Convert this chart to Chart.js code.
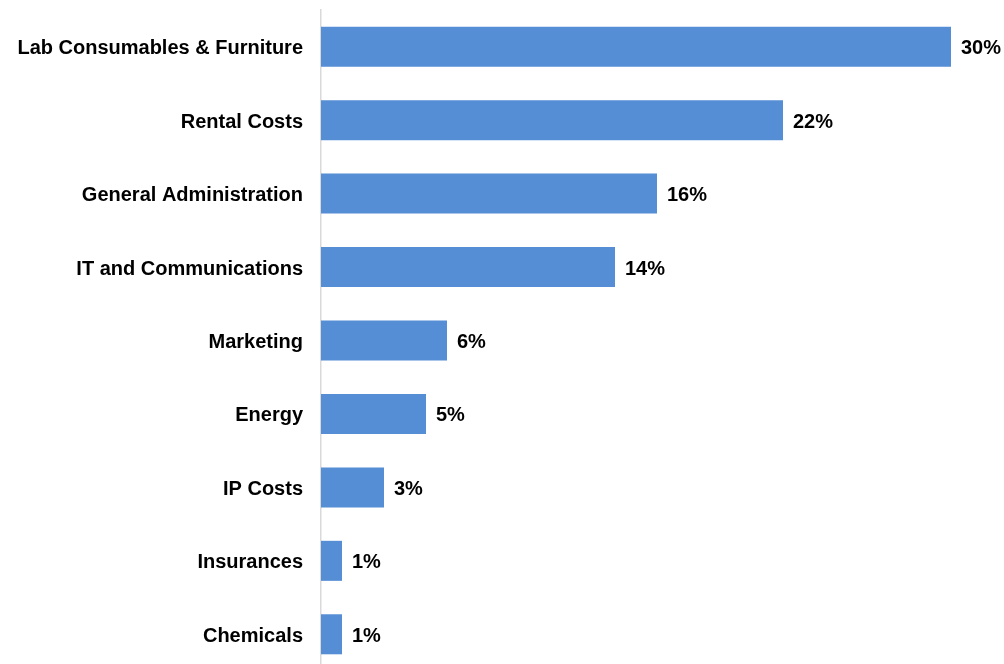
<!DOCTYPE html>
<html>
<head>
<meta charset="utf-8">
<script src="https://cdn.jsdelivr.net/npm/chart.js@4.4.1/dist/chart.umd.min.js"></script>
<style>
  html, body { margin: 0; padding: 0; background: #ffffff; overflow: hidden; }
  #wrap { position: relative; width: 1004px; height: 681px; }
</style>
</head>
<body>
<div id="wrap"><canvas id="chart" width="1004" height="681"></canvas></div>
<script>
// Cost categories and their share of total spend (%)
const categories = [
  "Lab Consumables & Furniture",
  "Rental Costs",
  "General Administration",
  "IT and Communications",
  "Marketing",
  "Energy",
  "IP Costs",
  "Insurances",
  "Chemicals"
];
const shares = [30, 22, 16, 14, 6, 5, 3, 1, 1];

const FONT = "'Liberation Sans', Arial, Helvetica, sans-serif";

// Writes the percentage just past the end of each bar
const valueLabels = {
  id: "valueLabels",
  afterDatasetsDraw(chart) {
    const ctx = chart.ctx;
    const meta = chart.getDatasetMeta(0);
    ctx.save();
    ctx.font = "bold 20px " + FONT;
    ctx.fillStyle = "#000000";
    ctx.textAlign = "left";
    ctx.textBaseline = "middle";
    meta.data.forEach((bar, i) => {
      ctx.fillText(shares[i] + "%", bar.x + 10, bar.y + 2);
    });
    ctx.restore();
  }
};

new Chart(document.getElementById("chart"), {
  type: "bar",
  data: {
    labels: categories,
    datasets: [{
      data: shares,
      backgroundColor: "#558ED5",
      borderWidth: 0,
      barPercentage: 0.545,
      categoryPercentage: 1.0
    }]
  },
  options: {
    indexAxis: "y",
    responsive: false,
    animation: false,
    layout: { padding: { top: 10, right: 11, bottom: 10, left: 0 } },
    plugins: {
      legend: { display: false },
      tooltip: { enabled: false }
    },
    scales: {
      x: {
        display: false,
        min: 0,
        max: 32
      },
      y: {
        afterFit(scale) { scale.width = 321; },
        grid: { display: false, drawTicks: true, tickLength: 18 },
        border: { display: true, color: "#d9d9d9", width: 1.5 },
        ticks: {
          color: "#000000",
          padding: 0,
          labelOffset: 2,
          font: { family: FONT, size: 20, weight: "bold", lineHeight: 1.0 }
        }
      }
    }
  },
  plugins: [valueLabels]
});
</script>
</body>
</html>
